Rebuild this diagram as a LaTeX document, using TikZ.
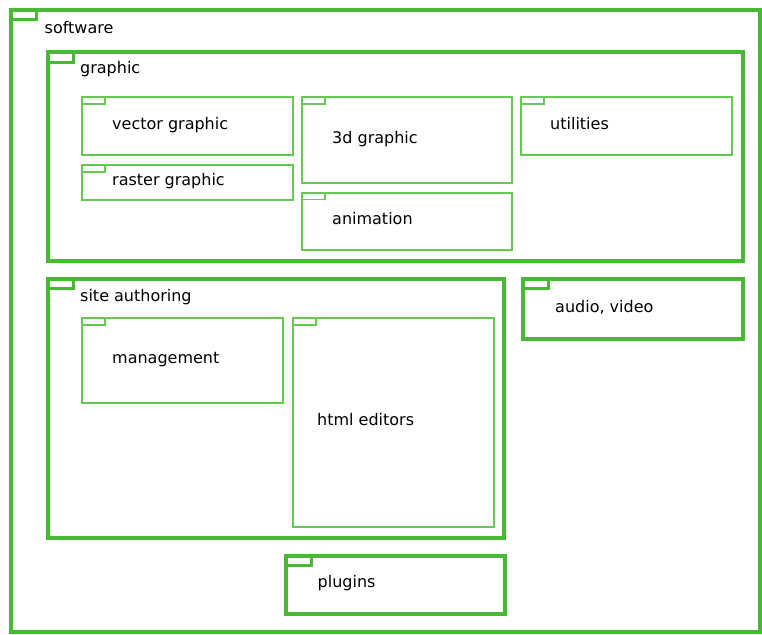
\documentclass[tikz,border=0pt]{standalone}
\usepackage{fontspec}
\setmainfont{DejaVu Sans}
\usetikzlibrary{positioning}
\definecolor{pkggreen}{RGB}{70,186,50}
\definecolor{leafgreen}{RGB}{102,202,82}
\tikzset{
  pkg/.style={rectangle, draw=pkggreen, line width=4pt, inner sep=0pt, outer sep=0pt, anchor=north west},
  leaf/.style={pkg, draw=leafgreen, line width=2pt},
  bigtab/.style={draw=pkggreen, line width=3pt},
  smalltab/.style={draw=leafgreen, line width=1.6pt},
  pkgname/.style={font=\fontsize{16}{19}\selectfont, inner sep=0pt, anchor=base west},
  leafname/.style={font=\fontsize{16}{19}\selectfont, inner sep=0pt, text height=11pt, text depth=4.2pt}
}

\begin{document}
\begin{tikzpicture}[x=1pt, y=-1pt]
\useasboundingbox (0,0) rectangle (762,634);
% outer package
\node[pkg, minimum width=749.5pt, minimum height=621.5pt] (sw) at (10.5,10) {};
\draw[bigtab] (sw.north west) rectangle ++(26,9.5);
\node[pkgname] (swl) at ([shift={(34,24)}]sw.north west) {software};
% graphic
\node[pkg, minimum width=694.5pt, minimum height=208pt] (gr) at (48,52.5) {};
\draw[bigtab] (gr.north west) rectangle ++(25,9.5);
\node[pkgname] (grl) at ([shift={(32,21.5)}]gr.north west) {graphic};
\node[leaf, minimum width=210.5pt, minimum height=58pt] (vec) at (82,97) {};
\draw[smalltab] (vec.north west) rectangle ++(23,7);
\node[leafname, right=30pt of vec.west] (vecl) {vector graphic};
\node[leaf, minimum width=210.5pt, minimum height=34.5pt] (ras) at (82,165) {};
\draw[smalltab] (ras.north west) rectangle ++(23,7);
\node[leafname, right=30pt of ras.west] (rasl) {raster graphic};
\node[leaf, minimum width=209.5pt, minimum height=85.5pt] (td) at (302,97) {};
\draw[smalltab] (td.north west) rectangle ++(23,7);
\node[leafname, right=30pt of td.west] (tdl) {3d graphic};
\node[leaf, minimum width=209.5pt, minimum height=57pt] (anim) at (302,192.5) {};
\draw[smalltab] (anim.north west) rectangle ++(23,7);
\node[leafname, right=30pt of anim.west] (animl) {animation};
\node[leaf, minimum width=211pt, minimum height=58pt] (util) at (521,97) {};
\draw[smalltab] (util.north west) rectangle ++(23,7);
\node[leafname, right=29pt of util.west] (utill) {utilities};
% site authoring
\node[pkg, minimum width=455.5pt, minimum height=259pt] (site) at (48,278.5) {};
\draw[bigtab] (site.north west) rectangle ++(25,9.5);
\node[pkgname] (sitel) at ([shift={(32,22.5)}]site.north west) {site authoring};
\node[leaf, minimum width=201pt, minimum height=84.5pt] (mgmt) at (82,318) {};
\draw[smalltab] (mgmt.north west) rectangle ++(23,7);
\node[leafname, right=30pt of mgmt.west] (mgmtl) {management};
\node[leaf, minimum width=201pt, minimum height=209pt] (html) at (293,318) {};
\draw[smalltab] (html.north west) rectangle ++(23,7);
\node[leafname, right=24pt of html.west] (htmll) {html editors};
% audio, video and plugins
\node[pkg, minimum width=219.5pt, minimum height=59.5pt] (av) at (523,279) {};
\draw[bigtab] (av.north west) rectangle ++(25,9.5);
\node[leafname, right=32pt of av.west] (avl) {audio, video};
\node[pkg, minimum width=219.5pt, minimum height=58pt] (plug) at (285.5,555.5) {};
\draw[bigtab] (plug.north west) rectangle ++(26,9.5);
\node[leafname, right=32pt of plug.west] (plugl) {plugins};
\end{tikzpicture}
\end{document}
